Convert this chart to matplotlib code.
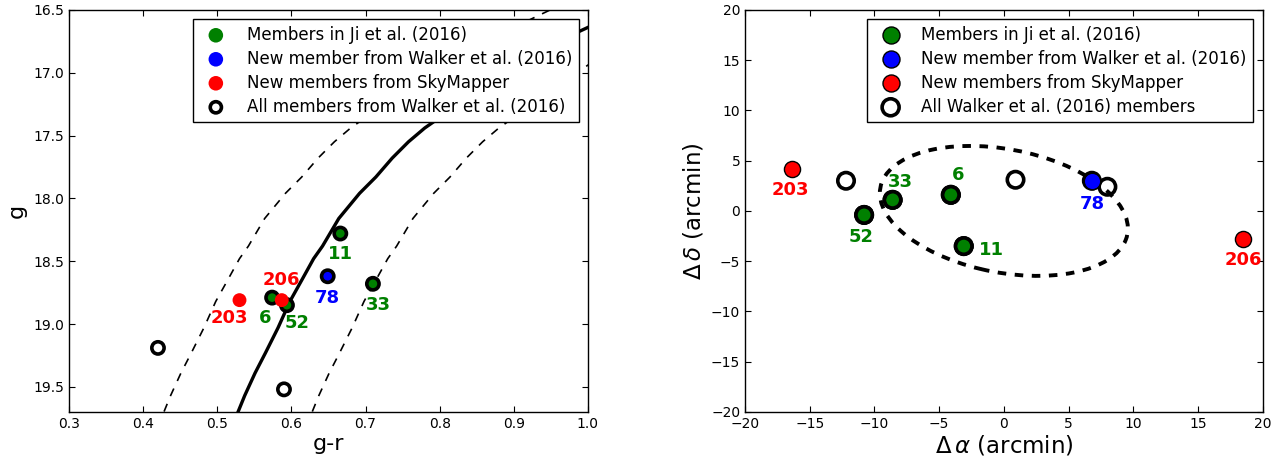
"""
Tuc II members: colour-magnitude diagram and sky positions
"""

import matplotlib
matplotlib.use('Agg')
import matplotlib.pyplot as plt
from matplotlib.patches import Ellipse
import numpy as np

# ---- data: colour-magnitude diagram ----
ji_ids = ['6', '52', '11', '33']
ji_gr = [0.574, 0.594, 0.666, 0.710]
ji_g = [18.79, 18.85, 18.28, 18.68]

new_walker_ids = ['78']
new_walker_gr = [0.649]
new_walker_g = [18.62]

skym_ids = ['203', '206']
skym_gr = [0.530, 0.587]
skym_g = [18.81, 18.81]

walker_gr = [0.574, 0.594, 0.666, 0.710, 0.649, 0.420, 0.590]
walker_g = [18.79, 18.85, 18.28, 18.68, 18.62, 19.19, 19.52]

# isochrone (solid) and colour window around it (dashed)
iso_gr = [0.520, 0.528, 0.537, 0.551, 0.565, 0.582, 0.598, 0.615, 0.630,
          0.642, 0.664, 0.692, 0.714, 0.736, 0.758, 0.780, 0.797, 0.850,
          0.900, 0.950, 0.989, 1.000, 1.060]
iso_g = [19.82, 19.70, 19.57, 19.39, 19.23, 19.03, 18.82, 18.64, 18.48,
         18.38, 18.16, 17.96, 17.83, 17.68, 17.55, 17.44, 17.37, 17.15,
         16.94, 16.78, 16.67, 16.64, 16.47]
color_window = 0.1

# ---- data: sky positions (arcmin) ----
ji_ra = [-4.1, -10.8, -3.1, -8.6]
ji_dec = [1.6, -0.4, -3.5, 1.1]
new_walker_ra = [6.8]
new_walker_dec = [3.0]
skym_ra = [-16.4, 18.5]
skym_dec = [4.2, -2.8]
walker_ra = [-4.1, -10.8, -3.1, -8.6, 6.8, -12.2, 0.9, 8.0]
walker_dec = [1.6, -0.4, -3.5, 1.1, 3.0, 3.0, 3.1, 2.4]

# half-light ellipse: width, height (arcmin), angle (deg)
ell_w, ell_h, ell_angle = 19.7, 12.1, -17.0

# label offsets in points
cmd_offsets = {'6': (-5, -14.5), '52': (7, -13), '11': (0, -15), '33': (4, -15),
               '78': (0, -16), '203': (-7, -13), '206': (0, 14.5)}
sky_offsets = {'6': (5.5, 14.5), '52': (-2, -16), '11': (20, -3), '33': (5.5, 13),
               '78': (0, -17), '203': (-1, -15), '206': (0, -15)}

plt.rcParams['font.family'] = 'DejaVu Sans'

fig = plt.figure(figsize=(12.78, 4.57), dpi=100)
ax1 = fig.add_axes([0.054, 0.0985, 0.406, 0.88])
ax2 = fig.add_axes([0.583, 0.0985, 0.405, 0.88])


def label_points(ax, ids, xs, ys, color, offsets):
    for name, x, y in zip(ids, xs, ys):
        ax.annotate(name, (x, y), xytext=offsets[name], textcoords='offset points',
                    ha='center', va='center', color=color, fontsize=13,
                    fontweight='bold')


def style_axes(ax):
    ax.tick_params(direction='in', top=True, right=True, length=4, width=0.8,
                   labelsize=10)
    for sp in ax.spines.values():
        sp.set_linewidth(1.0)


def make_legend(ax, order, sizes):
    h, l = ax.get_legend_handles_labels()
    leg = ax.legend([h[i] for i in order], [l[i] for i in order], loc='upper right',
                    scatterpoints=1, fontsize=12, fancybox=False, framealpha=1,
                    edgecolor='k', borderaxespad=0.55, borderpad=0.4,
                    handlelength=2.0, handletextpad=0.85, labelspacing=0.36)
    leg.get_frame().set_linewidth(1.0)
    leg.set_zorder(10)
    for hd, s in zip(leg.legend_handles, sizes):
        hd.set_sizes([s])
    return leg


# ---- left panel ----
iso_gr_arr = np.array(iso_gr)
ax1.plot(iso_gr_arr, iso_g, color='k', lw=2.4, zorder=1)
ax1.plot(iso_gr_arr - color_window, iso_g, color='k', lw=1.2, ls=(0, (5, 5)), zorder=1)
ax1.plot(iso_gr_arr + color_window, iso_g, color='k', lw=1.2, ls=(0, (5, 5)), zorder=1)

ax1.scatter(ji_gr, ji_g, s=60, color='green', edgecolors='none', zorder=2,
            label='Members in Ji et al. (2016)')
ax1.scatter(new_walker_gr, new_walker_g, s=60, color='blue', edgecolors='none',
            zorder=2, label='New member from Walker et al. (2016)')
ax1.scatter(walker_gr, walker_g, s=78, facecolors='none', edgecolors='k',
            linewidths=2.6, zorder=3, label='All members from Walker et al. (2016)')
ax1.scatter(skym_gr, skym_g, s=100, color='red', edgecolors='none', zorder=4,
            label='New members from SkyMapper')

label_points(ax1, ji_ids, ji_gr, ji_g, 'green', cmd_offsets)
label_points(ax1, new_walker_ids, new_walker_gr, new_walker_g, 'blue', cmd_offsets)
label_points(ax1, skym_ids, skym_gr, skym_g, 'red', cmd_offsets)

ax1.set_xlim(0.3, 1.0)
ax1.set_ylim(19.7, 16.5)
ax1.set_xticks(np.arange(0.3, 1.01, 0.1))
ax1.set_yticks(np.arange(16.5, 19.6, 0.5))
ax1.set_xticklabels(['%.1f' % v for v in np.arange(0.3, 1.01, 0.1)])
ax1.set_yticklabels(['%.1f' % v for v in np.arange(16.5, 19.6, 0.5)])
ax1.set_xlabel('g-r', fontsize=16, labelpad=2)
ax1.set_ylabel('g', fontsize=16, labelpad=5)
style_axes(ax1)
make_legend(ax1, [0, 1, 3, 2], [110, 110, 110, 65])

# ---- right panel ----
ell = Ellipse((0, 0), ell_w, ell_h, angle=ell_angle, fill=False, edgecolor='k',
              lw=2.8, ls=(0, (2.2, 2.2)), zorder=1)
ax2.add_patch(ell)

ax2.scatter(walker_ra, walker_dec, s=140, facecolors='none', edgecolors='k',
            linewidths=2.6, zorder=2, label='All Walker et al. (2016) members')
ax2.scatter(ji_ra, ji_dec, s=140, color='green', edgecolors='k', linewidths=1.0,
            zorder=3, label='Members in Ji et al. (2016)')
ax2.scatter(new_walker_ra, new_walker_dec, s=140, color='blue', edgecolors='k',
            linewidths=1.0, zorder=3, label='New member from Walker et al. (2016)')
ax2.scatter(skym_ra, skym_dec, s=135, color='red', edgecolors='k', linewidths=1.0,
            zorder=3, label='New members from SkyMapper')
# redraw rings of Ji members on top
ax2.scatter(ji_ra, ji_dec, s=140, facecolors='none', edgecolors='k',
            linewidths=2.6, zorder=4)

label_points(ax2, ji_ids, ji_ra, ji_dec, 'green', sky_offsets)
label_points(ax2, new_walker_ids, new_walker_ra, new_walker_dec, 'blue', sky_offsets)
label_points(ax2, skym_ids, skym_ra, skym_dec, 'red', sky_offsets)

ax2.set_xlim(-20, 20)
ax2.set_ylim(-20, 20)
ax2.set_xticks(np.arange(-20, 21, 5))
ax2.set_yticks(np.arange(-20, 21, 5))
ax2.set_xlabel(r'$\Delta\,\alpha$ (arcmin)', fontsize=16.5, labelpad=2)
ax2.set_ylabel(r'$\Delta\,\delta$ (arcmin)', fontsize=16.5, labelpad=4)
style_axes(ax2)
make_legend(ax2, [1, 2, 3, 0], [150, 150, 150, 150])

fig.savefig('out.png', dpi=100, facecolor='white')
